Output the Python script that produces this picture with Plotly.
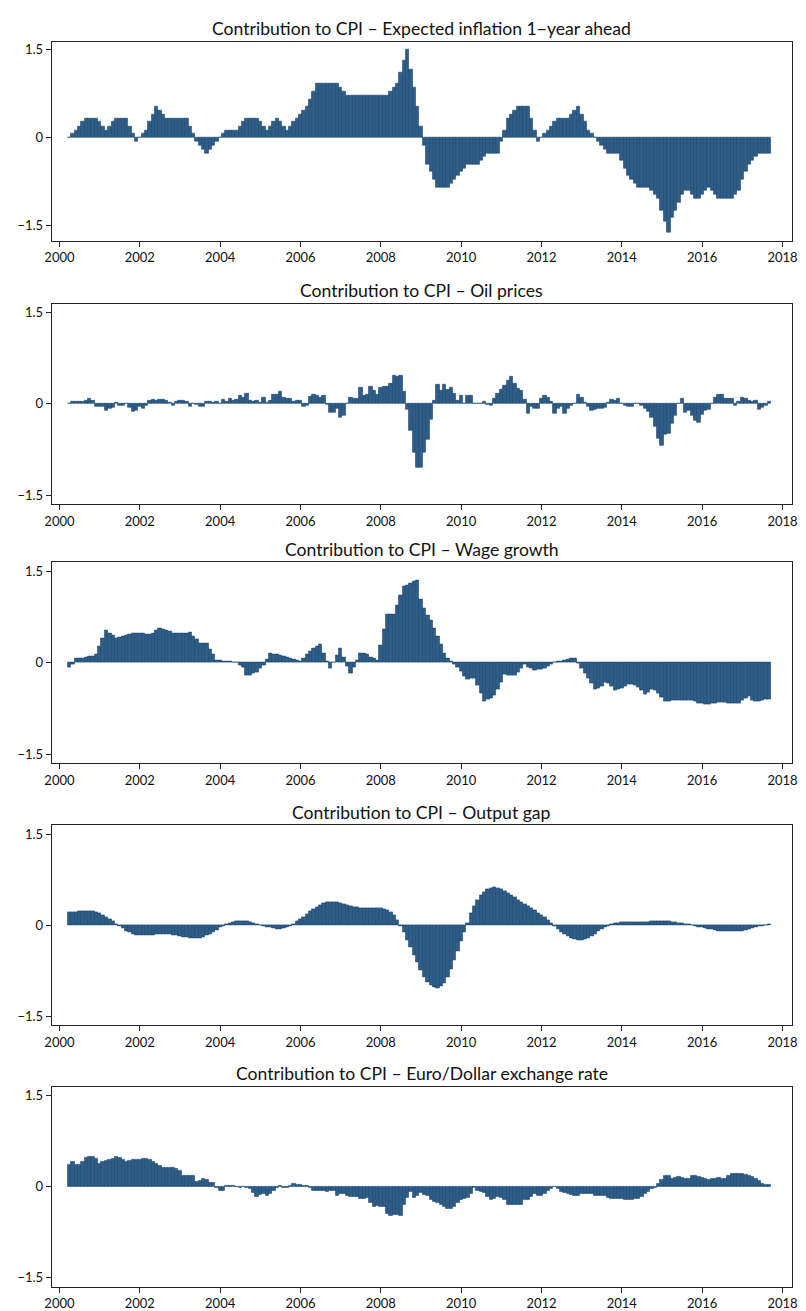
import pandas as pd
import plotly.graph_objects as go

# Monthly observations, April 2000 to September 2017
months = pd.date_range("2000-04-01", periods=210, freq="MS")
# position each month on a decimal-year axis (bar centred on the month)
month_pos = [d.year + (d.month - 1) / 12 for d in months]

expected_inflation = [
    0.0, 0.07, 0.13, 0.2, 0.27, 0.33, 0.33, 0.33, 0.33, 0.27,
    0.2, 0.13, 0.2, 0.27, 0.33, 0.33, 0.33, 0.33, 0.2, 0.07,
    -0.07, 0.0, 0.07, 0.13, 0.27, 0.4, 0.53, 0.46, 0.4, 0.33,
    0.33, 0.33, 0.33, 0.33, 0.33, 0.33, 0.2, 0.07, -0.07, -0.13,
    -0.2, -0.26, -0.2, -0.13, -0.07, 0.0, 0.07, 0.13, 0.13, 0.13,
    0.13, 0.2, 0.27, 0.33, 0.33, 0.33, 0.33, 0.27, 0.2, 0.13,
    0.2, 0.27, 0.33, 0.27, 0.2, 0.13, 0.2, 0.27, 0.33, 0.4,
    0.46, 0.53, 0.66, 0.79, 0.92, 0.92, 0.92, 0.92, 0.92, 0.92,
    0.92, 0.85, 0.79, 0.72, 0.72, 0.72, 0.72, 0.72, 0.72, 0.72,
    0.72, 0.72, 0.72, 0.72, 0.72, 0.72, 0.79, 0.85, 0.92, 1.11,
    1.31, 1.5, 1.17, 0.85, 0.53, 0.2, -0.13, -0.45, -0.58, -0.71,
    -0.84, -0.84, -0.84, -0.84, -0.77, -0.71, -0.65, -0.58, -0.52, -0.45,
    -0.45, -0.45, -0.45, -0.39, -0.32, -0.26, -0.26, -0.26, -0.26, -0.07,
    0.13, 0.33, 0.4, 0.46, 0.53, 0.53, 0.53, 0.53, 0.33, 0.13,
    -0.07, 0.0, 0.07, 0.13, 0.2, 0.27, 0.33, 0.33, 0.33, 0.33,
    0.4, 0.46, 0.53, 0.4, 0.27, 0.13, 0.07, 0.0, -0.07, -0.13,
    -0.2, -0.26, -0.26, -0.26, -0.26, -0.39, -0.52, -0.65, -0.71, -0.77,
    -0.84, -0.84, -0.84, -0.84, -0.9, -0.97, -1.03, -1.23, -1.43, -1.62,
    -1.36, -1.23, -1.1, -0.97, -0.9, -0.9, -0.97, -1.03, -1.03, -0.97,
    -0.9, -0.84, -0.9, -0.97, -1.03, -1.03, -1.03, -1.03, -1.03, -0.97,
    -0.9, -0.71, -0.58, -0.45, -0.39, -0.32, -0.26, -0.26, -0.26, -0.26,
]

oil_prices = [
    0.0, 0.03, 0.04, 0.03, 0.03, 0.05, 0.08, 0.05, -0.05, -0.04,
    -0.04, -0.11, -0.07, -0.06, 0.02, -0.02, -0.02, 0.01, -0.06, -0.12,
    -0.11, -0.05, -0.08, -0.03, 0.05, 0.07, 0.05, 0.07, 0.07, 0.05,
    0.02, -0.03, 0.04, 0.06, 0.06, 0.04, -0.04, 0.01, -0.01, -0.04,
    -0.05, 0.04, 0.03, 0.02, 0.03, 0.01, 0.07, 0.04, 0.09, 0.06,
    0.07, 0.13, 0.11, 0.17, 0.05, 0.04, 0.06, 0.02, 0.1, 0.02,
    0.06, 0.16, 0.15, 0.2, 0.11, 0.08, 0.08, 0.04, 0.05, 0.06,
    -0.05, -0.03, 0.12, 0.15, 0.13, 0.11, 0.14, -0.01, -0.15, -0.14,
    -0.08, -0.23, -0.19, 0.0, 0.1, 0.09, 0.09, 0.26, 0.14, 0.16,
    0.28, 0.22, 0.16, 0.27, 0.29, 0.29, 0.34, 0.46, 0.45, 0.46,
    0.2, -0.09, -0.44, -0.8, -1.05, -1.04, -0.8, -0.59, -0.26, 0.05,
    0.32, 0.22, 0.32, 0.23, 0.26, 0.17, 0.05, 0.13, 0.0, 0.13,
    0.13, 0.0, 0.0, 0.01, 0.03, -0.01, -0.02, 0.09, 0.17, 0.23,
    0.3, 0.39, 0.45, 0.34, 0.25, 0.22, 0.07, -0.16, -0.04, -0.07,
    -0.07, 0.09, 0.14, 0.1, 0.03, -0.16, -0.08, -0.05, -0.16, -0.08,
    -0.03, 0.01, 0.15, 0.1, 0.02, -0.05, -0.11, -0.09, -0.08, -0.07,
    -0.06, 0.02, 0.07, 0.05, 0.08, 0.01, -0.03, -0.05, -0.04, 0.01,
    0.0, -0.02, -0.07, -0.13, -0.23, -0.37, -0.57, -0.68, -0.51, -0.49,
    -0.33, -0.19, 0.0, 0.09, -0.14, -0.11, -0.19, -0.27, -0.3, -0.17,
    -0.11, -0.09, 0.01, 0.11, 0.15, 0.15, 0.09, 0.08, 0.09, -0.03,
    0.04, 0.1, 0.08, 0.05, 0.04, 0.05, -0.09, -0.06, -0.02, 0.04,
]

wage_growth = [
    -0.07, -0.02, 0.08, 0.08, 0.08, 0.09, 0.1, 0.11, 0.13, 0.27,
    0.4, 0.53, 0.49, 0.45, 0.4, 0.42, 0.44, 0.45, 0.46, 0.48,
    0.49, 0.49, 0.48, 0.46, 0.46, 0.49, 0.53, 0.57, 0.55, 0.53,
    0.51, 0.49, 0.48, 0.48, 0.49, 0.49, 0.5, 0.44, 0.38, 0.32,
    0.32, 0.32, 0.22, 0.14, 0.04, 0.04, 0.03, 0.03, 0.02, 0.01,
    0.0, -0.04, -0.08, -0.21, -0.2, -0.18, -0.16, -0.1, -0.04, 0.06,
    0.16, 0.14, 0.13, 0.12, 0.1, 0.09, 0.07, 0.05, 0.04, 0.02,
    0.07, 0.14, 0.18, 0.23, 0.27, 0.3, 0.16, 0.03, -0.1, 0.0,
    0.12, 0.23, 0.09, -0.06, -0.18, -0.07, 0.04, 0.16, 0.15, 0.13,
    0.09, 0.07, 0.04, 0.29, 0.55, 0.8, 0.8, 0.8, 0.95, 1.1,
    1.25, 1.28, 1.3, 1.33, 1.36, 1.05, 0.89, 0.78, 0.69, 0.57,
    0.44, 0.3, 0.16, 0.08, 0.02, -0.03, -0.07, -0.14, -0.22, -0.28,
    -0.26, -0.25, -0.37, -0.51, -0.63, -0.6, -0.58, -0.54, -0.43, -0.32,
    -0.19, -0.2, -0.21, -0.21, -0.15, -0.09, -0.03, -0.07, -0.1, -0.12,
    -0.11, -0.11, -0.1, -0.06, -0.02, 0.01, 0.02, 0.03, 0.04, 0.05,
    0.07, 0.08, -0.01, -0.09, -0.18, -0.26, -0.34, -0.44, -0.42, -0.38,
    -0.33, -0.34, -0.38, -0.46, -0.44, -0.42, -0.38, -0.36, -0.36, -0.37,
    -0.4, -0.46, -0.52, -0.48, -0.44, -0.45, -0.51, -0.57, -0.64, -0.63,
    -0.62, -0.61, -0.61, -0.61, -0.62, -0.62, -0.62, -0.63, -0.66, -0.67,
    -0.69, -0.68, -0.66, -0.66, -0.65, -0.65, -0.65, -0.66, -0.66, -0.67,
    -0.66, -0.62, -0.58, -0.55, -0.61, -0.64, -0.63, -0.62, -0.6, -0.6,
]

output_gap = [
    0.21, 0.22, 0.22, 0.23, 0.23, 0.23, 0.23, 0.23, 0.22, 0.2,
    0.17, 0.14, 0.1, 0.06, 0.02, -0.02, -0.05, -0.09, -0.12, -0.14,
    -0.16, -0.17, -0.17, -0.17, -0.17, -0.16, -0.15, -0.15, -0.15, -0.15,
    -0.15, -0.16, -0.17, -0.18, -0.19, -0.2, -0.21, -0.21, -0.21, -0.21,
    -0.19, -0.17, -0.14, -0.11, -0.08, -0.04, -0.01, 0.02, 0.04, 0.05,
    0.07, 0.07, 0.07, 0.07, 0.05, 0.04, 0.02, 0.0, -0.02, -0.03,
    -0.04, -0.05, -0.06, -0.06, -0.05, -0.04, -0.02, 0.02, 0.06, 0.1,
    0.14, 0.19, 0.23, 0.27, 0.3, 0.33, 0.37, 0.38, 0.38, 0.38,
    0.38, 0.37, 0.35, 0.33, 0.32, 0.3, 0.29, 0.28, 0.28, 0.28,
    0.28, 0.28, 0.28, 0.28, 0.27, 0.25, 0.22, 0.16, 0.09, -0.01,
    -0.12, -0.24, -0.37, -0.49, -0.61, -0.74, -0.86, -0.94, -0.99, -1.03,
    -1.04, -1.01, -0.95, -0.86, -0.72, -0.58, -0.42, -0.27, -0.11, 0.04,
    0.2, 0.32, 0.41, 0.5, 0.55, 0.59, 0.61, 0.62, 0.61, 0.59,
    0.56, 0.53, 0.49, 0.46, 0.42, 0.38, 0.35, 0.32, 0.28, 0.24,
    0.2, 0.17, 0.13, 0.09, 0.03, -0.02, -0.07, -0.11, -0.15, -0.18,
    -0.21, -0.23, -0.24, -0.24, -0.23, -0.21, -0.18, -0.14, -0.1, -0.07,
    -0.04, -0.01, 0.01, 0.03, 0.04, 0.05, 0.05, 0.05, 0.05, 0.05,
    0.05, 0.05, 0.05, 0.05, 0.06, 0.06, 0.06, 0.06, 0.06, 0.06,
    0.05, 0.05, 0.04, 0.03, 0.02, 0.01, 0.0, -0.01, -0.03, -0.04,
    -0.05, -0.06, -0.07, -0.08, -0.09, -0.09, -0.1, -0.1, -0.1, -0.1,
    -0.09, -0.09, -0.08, -0.06, -0.05, -0.03, -0.02, -0.01, 0.0, 0.01,
]

euro_dollar = [
    0.37, 0.42, 0.36, 0.37, 0.42, 0.48, 0.49, 0.49, 0.46, 0.38,
    0.41, 0.43, 0.44, 0.46, 0.49, 0.48, 0.44, 0.41, 0.43, 0.45,
    0.45, 0.45, 0.46, 0.46, 0.45, 0.42, 0.38, 0.34, 0.32, 0.32,
    0.32, 0.32, 0.29, 0.26, 0.19, 0.19, 0.19, 0.18, 0.09, 0.1,
    0.13, 0.12, 0.07, 0.07, -0.02, -0.06, -0.06, 0.01, 0.02, 0.02,
    0.0, -0.01, 0.0, -0.01, -0.04, -0.1, -0.16, -0.13, -0.11, -0.14,
    -0.11, -0.06, -0.02, 0.02, -0.01, -0.01, 0.02, 0.05, 0.04, 0.03,
    0.02, 0.01, -0.01, -0.07, -0.06, -0.07, -0.07, -0.08, -0.07, -0.07,
    -0.14, -0.11, -0.12, -0.14, -0.16, -0.16, -0.16, -0.19, -0.19, -0.18,
    -0.27, -0.33, -0.32, -0.33, -0.33, -0.45, -0.47, -0.46, -0.46, -0.47,
    -0.3, -0.18, -0.08, -0.18, -0.14, -0.1, -0.13, -0.15, -0.22, -0.25,
    -0.26, -0.3, -0.33, -0.36, -0.37, -0.33, -0.27, -0.21, -0.19, -0.18,
    -0.11, -0.02, -0.07, -0.08, -0.1, -0.16, -0.22, -0.19, -0.16, -0.18,
    -0.22, -0.3, -0.29, -0.29, -0.29, -0.29, -0.22, -0.21, -0.16, -0.12,
    -0.14, -0.14, -0.11, -0.07, -0.04, 0.0, -0.03, -0.08, -0.09, -0.11,
    -0.13, -0.14, -0.15, -0.11, -0.12, -0.12, -0.12, -0.14, -0.15, -0.14,
    -0.15, -0.18, -0.2, -0.19, -0.2, -0.19, -0.21, -0.22, -0.22, -0.2,
    -0.19, -0.16, -0.11, -0.08, -0.04, -0.02, 0.05, 0.11, 0.18, 0.18,
    0.14, 0.15, 0.16, 0.15, 0.14, 0.14, 0.19, 0.18, 0.16, 0.15,
    0.14, 0.12, 0.13, 0.14, 0.15, 0.14, 0.14, 0.18, 0.21, 0.21,
    0.21, 0.21, 0.2, 0.19, 0.16, 0.14, 0.1, 0.05, 0.04, 0.03,
]

panel_titles = [
    "Contribution to CPI \u2013 Expected inflation 1\u2212year ahead",
    "Contribution to CPI \u2013 Oil prices",
    "Contribution to CPI \u2013 Wage growth",
    "Contribution to CPI \u2013 Output gap",
    "Contribution to CPI \u2013 Euro/Dollar exchange rate",
]
panel_series = [expected_inflation, oil_prices, wage_growth, output_gap, euro_dollar]
y_ranges = [[-1.75, 1.64], [-1.65, 1.65], [-1.65, 1.65], [-1.65, 1.65], [-1.65, 1.65]]

year_ticks = list(range(2000, 2019, 2))
year_labels = [str(y) for y in year_ticks]
y_ticks = [-1.5, 0, 1.5]
y_labels = ["\u22121.5", "0", "1.5"]

W, H = 806, 1311
# plot boxes in pixels: (top, bottom)
boxes = [(41.7, 241.7), (305, 506.5), (565, 766.7), (829, 1030), (1091.7, 1292.7)]
title_y = [28.3, 292.3, 552.3, 816, 1078.3]
x_left, x_right = 45.5, 797

bar_fill = "#2f5d88"
bar_edge = "#1b466f"
axis_col = "#222222"
font_family = "Lato, 'Open Sans', sans-serif"

fig = go.Figure()
annotations = []
for i, (vals, title) in enumerate(zip(panel_series, panel_titles)):
    n = i + 1
    xa = "x" if n == 1 else f"x{n}"
    ya = "y" if n == 1 else f"y{n}"
    fig.add_trace(go.Bar(
        x=month_pos, y=vals, xaxis=xa, yaxis=ya,
        width=1 / 12,
        marker=dict(color=bar_fill, line=dict(color=bar_edge, width=0.6)),
        showlegend=False, hoverinfo="y",
    ))
    top, bot = boxes[i]
    xkey = "xaxis" if n == 1 else f"xaxis{n}"
    ykey = "yaxis" if n == 1 else f"yaxis{n}"
    fig.update_layout(**{
        xkey: dict(
            domain=[x_left / W, x_right / W], anchor=ya,
            range=[1999.81, 2018.24],
            tickmode="array", tickvals=year_ticks, ticktext=year_labels,
            ticks="outside", ticklen=5, tickwidth=1, tickcolor=axis_col,
            showline=True, linecolor=axis_col, linewidth=1.2, mirror=True,
            showgrid=False, zeroline=False,
            tickfont=dict(family=font_family, size=13, color="#111"),
        ),
        ykey: dict(
            domain=[1 - bot / H, 1 - top / H], anchor=xa,
            range=y_ranges[i],
            tickmode="array", tickvals=y_ticks, ticktext=y_labels,
            ticks="outside", ticklen=5, tickwidth=1, tickcolor=axis_col,
            showline=True, linecolor=axis_col, linewidth=1.2, mirror=True,
            showgrid=False, zeroline=False,
            tickfont=dict(family=font_family, size=13, color="#111"),
        ),
    })
    annotations.append(dict(
        text=title, xref="paper", yref="paper",
        x=(x_left + x_right) / 2 / W, y=1 - title_y[i] / H,
        xanchor="center", yanchor="middle", showarrow=False,
        font=dict(family=font_family, size=17.6, color="#111"),
    ))

fig.update_layout(
    width=W, height=H,
    margin=dict(l=0, r=0, t=0, b=0),
    paper_bgcolor="white", plot_bgcolor="white",
    bargap=0, annotations=annotations,
)

fig.write_html("out.html")
